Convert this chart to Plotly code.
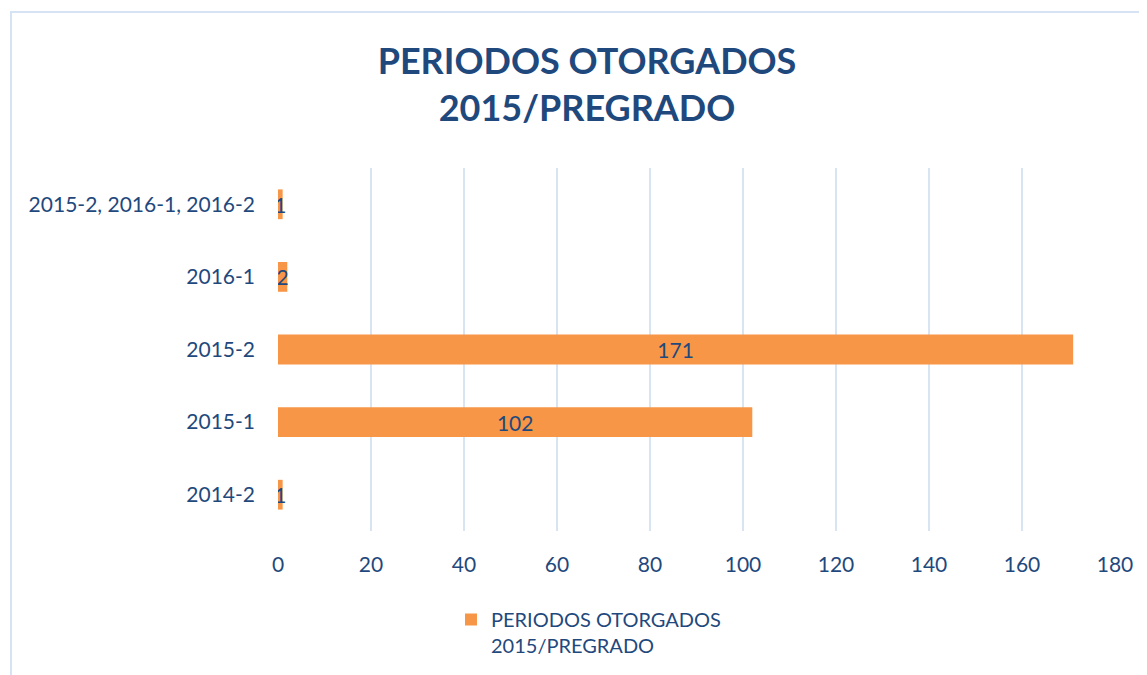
import plotly.graph_objects as go

periodos = ['2014-2', '2015-1', '2015-2', '2016-1', '2015-2, 2016-1, 2016-2']
otorgados = [1, 102, 171, 2, 1]
x_ticks = [0, 20, 40, 60, 80, 100, 120, 140, 160, 180]

azul = '#1F497D'
naranja = '#F79646'
W, H = 1147, 675
OFF = 8  # page body margin shifts the figure by 8px
# plot area in pixels (figure coordinates)
L, R, T, B = 278 - OFF, 1115 - OFF, 168 - OFF, 531 - OFF


def px_x(sx):
    return (sx - OFF - L) / (R - L)


def px_y(sy):
    return (B - (sy - OFF)) / (B - T)


fig = go.Figure()

fig.add_trace(go.Bar(
    y=periodos,
    x=otorgados,
    orientation='h',
    name='PERIODOS OTORGADOS<br>2015/PREGRADO',
    marker=dict(color=naranja, line=dict(width=0)),
    text=otorgados,
    textposition='inside',
    insidetextanchor='middle',
    constraintext='none',
    textfont=dict(color=azul, size=21, family='Lato'),
    showlegend=True,
))

fig.update_layout(
    width=W, height=H,
    margin=dict(l=L, r=W - R, t=T, b=H - B),
    plot_bgcolor='white',
    paper_bgcolor='white',
    font=dict(family='Lato', color=azul, size=21),
    bargap=0.59,
    title=dict(
        text='<b>PERIODOS OTORGADOS<br>2015/PREGRADO</b>',
        x=(587 - OFF) / W, xanchor='center',
        y=1 - (84 - OFF - 10) / H, yanchor='middle', yref='container',
        font=dict(family='Lato', size=36, color=azul),
    ),
    legend=dict(
        x=px_x(451), xanchor='left',
        y=px_y(600), yanchor='top',
        font=dict(size=20, color=azul),
        valign='top',
        bgcolor='rgba(0,0,0,0)',
    ),
    shapes=[dict(
        type='rect', xref='paper', yref='paper',
        x0=px_x(11), x1=px_x(1220),
        y0=px_y(720), y1=px_y(12),
        line=dict(color='#D6E3F5', width=2),
        layer='below',
    )],
)

fig.update_xaxes(
    range=[0, 180], tickvals=x_ticks,
    showgrid=True, gridcolor='#D9E4F2', gridwidth=2,
    zeroline=False, showline=False,
    ticks='', ticklabelstandoff=19,
)
fig.update_yaxes(
    type='category', categoryorder='array', categoryarray=periodos,
    showgrid=False, zeroline=False, showline=False,
    ticks='', ticklabelstandoff=22,
)

fig.write_html("out.html")
